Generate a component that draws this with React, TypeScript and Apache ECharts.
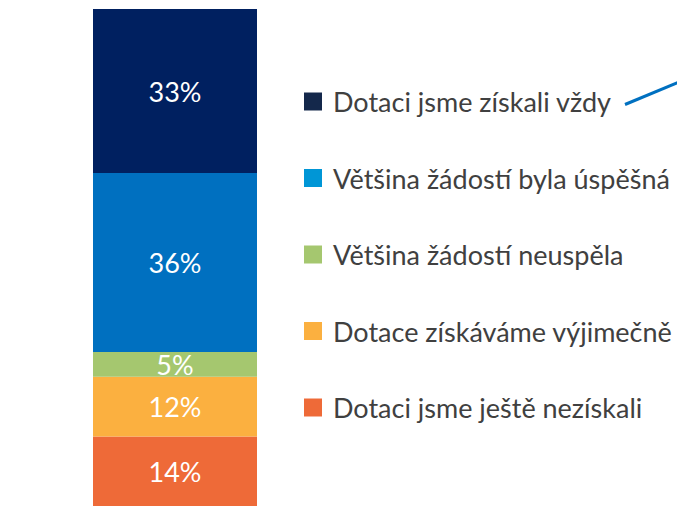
import React, { useEffect, useRef } from "react";
import * as echarts from "echarts";

const categories = ["Odpověď"];
const seriesNames = [
  "Dotaci jsme ještě nezískali",
  "Dotace získáváme výjimečně",
  "Většina žádostí neuspěla",
  "Většina žádostí byla úspěšná",
  "Dotaci jsme získali vždy",
];
const seriesValues = [14, 12, 5, 36, 33];
const barColors = ["#EE6A38", "#FBB040", "#A5C76F", "#0070C0", "#002060"];
const legendColors = ["#EE6A38", "#FBB040", "#A5C76F", "#0096D6", "#14284B"];
const legendOrder = [
  "Dotaci jsme získali vždy",
  "Většina žádostí byla úspěšná",
  "Většina žádostí neuspěla",
  "Dotace získáváme výjimečně",
  "Dotaci jsme ještě nezískali",
];

export default function App() {
  const ref = useRef<HTMLDivElement>(null);
  useEffect(() => {
    if (!ref.current) return;
    const chart = echarts.init(ref.current, null, { renderer: "svg" });
    const font = "Lato, 'Open Sans', sans-serif";
    chart.setOption({
      animation: false,
      grid: { left: 93, top: 9, width: 164, height: 500 },
      xAxis: { type: "category", data: categories, show: false },
      yAxis: { type: "value", min: 0, max: 100, show: false },
      legend: {
        orient: "vertical",
        left: 299,
        top: 83,
        itemWidth: 18,
        itemHeight: 18,
        itemGap: 49.5,
        icon: "rect",
        selectedMode: false,
        textStyle: { fontFamily: font, fontSize: 27, color: "#404040", padding: [0, 0, 0, 6] },
        data: legendOrder.map((n) => ({
          name: n,
          itemStyle: { color: legendColors[seriesNames.indexOf(n)] },
        })),
      },
      series: seriesNames.map((name, i) => ({
        name,
        type: "bar",
        stack: "total",
        barWidth: "100%",
        data: [seriesValues[i]],
        itemStyle: { color: barColors[i] },
        label: {
          show: true,
          position: "inside",
          formatter: "{c}%",
          color: "#FFFFFF",
          fontFamily: font,
          fontSize: 27,
        },
      })),
      graphic: [
        {
          type: "line",
          shape: { x1: 625, y1: 104.5, x2: 680, y2: 81.5 },
          style: { stroke: "#0070C0", lineWidth: 3 },
        },
      ],
    });
    return () => chart.dispose();
  }, []);
  return <div ref={ref} style={{ width: 677, height: 506, position: "absolute", left: 0, top: 0, overflow: "hidden" }} />;
}
